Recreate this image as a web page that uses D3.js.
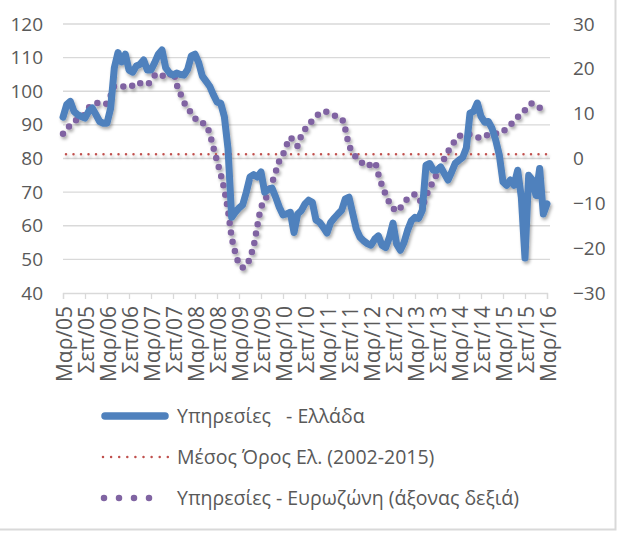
<!DOCTYPE html>
<html>
<head>
<meta charset="utf-8">
<script src="https://cdn.jsdelivr.net/npm/d3@7"></script>
<style>
  html, body { margin: 0; padding: 0; background: #fff; }
  svg text { font-family: "Open Sans", "Noto Sans", sans-serif; fill: #595959; }
</style>
</head>
<body>
<div id="chart"></div>
<script>
/* ============================================================
   Υπηρεσίες: Ελλάδα vs Ευρωζώνη - dual axis line chart
   ============================================================ */

const WIDTH = 626;
const HEIGHT = 534;
const PLOT = { left: 63, right: 547, top: 24, bottom: 293 };

// x axis tick labels, one every 6 months (Mar/05 .. Mar/16)
const TICK_LABELS = [
  "Μαρ/05", "Σεπ/05", "Μαρ/06", "Σεπ/06", "Μαρ/07", "Σεπ/07",
  "Μαρ/08", "Σεπ/08", "Μαρ/09", "Σεπ/09", "Μαρ/10", "Σεπ/10",
  "Μαρ/11", "Σεπ/11", "Μαρ/12", "Σεπ/12", "Μαρ/13", "Σεπ/13",
  "Μαρ/14", "Σεπ/14", "Μαρ/15", "Σεπ/15", "Μαρ/16",
];
const LEFT_TICKS = [40, 50, 60, 70, 80, 90, 100, 110, 120];
const RIGHT_TICKS = [-30, -20, -10, 0, 10, 20, 30];

// monthly values, Mar 2005 .. Mar 2016 (133 months)
const GREECE = [
  92.3, 96, 97, 94, 93, 92.5, 92, 94, 95, 93, 91, 90.5,
  90.5, 95, 107, 111.5, 108.7, 111, 106.3, 105.7, 107.5, 108, 109.3, 106.3,
  106.3, 108.5, 111, 112.3, 107, 105.5, 104.8, 105.4, 105, 104.8, 106.5, 110.5,
  111, 108.5, 104.5, 103, 101.5, 99, 96.8, 96.5, 92.5, 83, 62.5, 64,
  65.3, 66.2, 70, 74.5, 75.2, 74.5, 76, 70, 70.8, 71.2, 68.5, 65.5,
  63.2, 63.5, 64, 58, 63.5, 64.5, 66.5, 67.6, 67, 61.7, 61, 59.5,
  57.8, 61, 62.3, 63.5, 64.6, 68, 68.5, 63.7, 59, 56.6, 55.5, 54.7,
  54.2, 56, 57, 54.2, 53.5, 56.5, 60.8, 54.5, 52.7, 55, 58.7, 61.5,
  62.5, 62.2, 64.6, 78, 78.5, 76.5, 76.5, 77.5, 75.5, 73.6, 76, 78.6,
  79.5, 80.3, 83.1, 93.5, 94, 96.5, 92.5, 90.8, 91, 89, 85.5, 81,
  73, 72, 73.6, 72, 76.5, 68.5, 50.4, 75, 73.6, 69, 77, 63.5,
  66.5,
];

const EUROZONE = [
  5.5, 6.5, 7.5, 8.3, 8.7, 9, 10, 11.3, 12, 12.3, 12.4, 12,
  12.3, 14, 16.1, 16.1, 16.1, 16, 15.8, 16.3, 17, 16.8, 16.5, 16.5,
  17.5, 18.5, 19, 18.6, 18, 18.5, 19.4, 16.5, 14.5, 12.5, 11.5, 10,
  9, 8, 7.9, 7.5, 5.5, 2.5, -0.5, -3.5, -7, -11.6, -17.5, -21,
  -23.5, -24.3, -24, -22, -19.5, -15, -11, -9.5, -7.5, -5.4, -3, -0.5,
  0.9, 3, 4.7, 3.5, 2.8, 5.2, 6.5, 7.5, 8.5, 9.4, 10, 10.5,
  10.4, 10, 9.6, 9.2, 8.9, 6.5, 3, 1.5, 0.2, -0.5, -1.3, -1.8,
  -1.2, -0.8, -3.5, -6, -8, -9.8, -11, -11.8, -11, -9.8, -9, -8.5,
  -8, -8.5, -10.5, -8.5, -6.5, -5.2, -3.3, -1.8, 0, 1.5, 2.9, 4,
  5, 5.2, 5.3, 5.4, 5.2, 4.8, 4.5, 4.9, 5.3, 5.6, 5.6, 5.6,
  6, 6.8, 7.5, 8.3, 9.2, 10, 10.8, 11.8, 12.3, 11.8, 11.3, 10.9,
  10.8,
];

// long-run average for Greece (2002-2015), left axis
const GREECE_AVG = 81.3;

const LEGEND = [
  { label: "Υπηρεσίες   - Ελλάδα", type: "greece" },
  { label: "Μέσος Όρος Ελ. (2002-2015)", type: "avg" },
  { label: "Υπηρεσίες - Ευρωζώνη (άξονας δεξιά)", type: "euro" },
];

const BLUE = "#4f81bd";
const RED = "#c0504d";
const PURPLE = "#8064a2";
const GRID = "#d9d9d9";

/* ---------- scales ---------- */
const x = d3.scaleLinear().domain([0, GREECE.length - 1]).range([PLOT.left, PLOT.right]);
const yL = d3.scaleLinear().domain([40, 120]).range([PLOT.bottom, PLOT.top]);
const yR = d3.scaleLinear().domain([-30, 30]).range([PLOT.bottom, PLOT.top]);

const svg = d3
  .select("#chart")
  .append("svg")
  .attr("width", WIDTH)
  .attr("height", HEIGHT);

// soft shadow like the office chart effect
const defs = svg.append("defs");
defs
  .append("filter")
  .attr("id", "shadow")
  .attr("x", "-10%")
  .attr("y", "-10%")
  .attr("width", "120%")
  .attr("height", "130%")
  .append("feDropShadow")
  .attr("dx", 1.5)
  .attr("dy", 2.5)
  .attr("stdDeviation", 1.5)
  .attr("flood-color", "#000")
  .attr("flood-opacity", 0.32);

// outer frame (right + bottom edges visible)
svg
  .append("path")
  .attr("d", `M615.5,0 V529.5 H0`)
  .attr("fill", "none")
  .attr("stroke", GRID)
  .attr("stroke-width", 2);

/* ---------- grid + axes ---------- */
svg
  .append("g")
  .selectAll("line")
  .data(LEFT_TICKS.slice(1))
  .join("line")
  .attr("x1", PLOT.left)
  .attr("x2", PLOT.right + 3)
  .attr("y1", (d) => yL(d))
  .attr("y2", (d) => yL(d))
  .attr("stroke", GRID)
  .attr("stroke-width", 1.3);

const leftAxis = svg
  .append("g")
  .attr("transform", `translate(${PLOT.left},0)`)
  .call(d3.axisLeft(yL).tickValues(LEFT_TICKS).tickSize(0).tickPadding(20));
leftAxis.select(".domain").remove();

const rightAxis = svg
  .append("g")
  .attr("transform", `translate(${PLOT.right},0)`)
  .call(d3.axisRight(yR).tickValues(RIGHT_TICKS).tickSize(0).tickPadding(26));
rightAxis.select(".domain").remove();

svg.selectAll(".tick text").attr("font-size", 19).attr("fill", "#595959")
  .style("font-family", '"Open Sans", sans-serif');

// bottom axis: one tick every 6 months
const xTickIdx = TICK_LABELS.map((d, i) => i * 6);
const bottomAxis = svg
  .append("g")
  .attr("transform", `translate(0,${PLOT.bottom})`)
  .call(
    d3.axisBottom(x)
      .tickValues(xTickIdx)
      .tickSize(6)
      .tickFormat((d, i) => TICK_LABELS[i])
  );
bottomAxis.select(".domain").attr("stroke", GRID).attr("stroke-width", 1.3);
bottomAxis.selectAll(".tick line").attr("stroke", GRID).attr("stroke-width", 1.3);
bottomAxis
  .selectAll(".tick text")
  .attr("transform", "rotate(-90)")
  .attr("text-anchor", "end")
  .attr("x", -13)
  .attr("y", 0)
  .attr("dy", "0.4em")
  .attr("font-size", 21)
  .style("font-family", '"Open Sans", sans-serif')
  .attr("fill", "#595959");

/* ---------- series ---------- */
const plot = svg.append("g").attr("filter", "url(#shadow)");

// average reference line
plot
  .append("line")
  .attr("x1", x(0) + 3)
  .attr("x2", x(GREECE.length - 1))
  .attr("y1", yL(GREECE_AVG))
  .attr("y2", yL(GREECE_AVG))
  .attr("stroke", RED)
  .attr("stroke-width", 2.5)
  .attr("stroke-linecap", "round")
  .attr("stroke-dasharray", "0 7.5");

// eurozone, right axis, round dots
plot
  .append("path")
  .datum(EUROZONE)
  .attr("fill", "none")
  .attr("stroke", PURPLE)
  .attr("stroke-width", 6.5)
  .attr("stroke-linecap", "round")
  .attr("stroke-dasharray", "0 9.5")
  .attr("d", d3.line().x((d, i) => x(i)).y((d) => yR(d)).curve(d3.curveMonotoneX));

// greece, left axis, thick solid
plot
  .append("path")
  .datum(GREECE)
  .attr("fill", "none")
  .attr("stroke", BLUE)
  .attr("stroke-width", 7)
  .attr("stroke-linejoin", "round")
  .attr("stroke-linecap", "round")
  .attr("d", d3.line().x((d, i) => x(i)).y((d) => yL(d)));

/* ---------- legend ---------- */
const legend = svg
  .append("g")
  .selectAll("g")
  .data(LEGEND)
  .join("g")
  .attr("transform", (d, i) => `translate(0,${416 + i * 41})`);

legend.each(function (d) {
  const g = d3.select(this);
  if (d.type === "greece") {
    g.append("line")
      .attr("x1", 105).attr("x2", 165)
      .attr("stroke", BLUE).attr("stroke-width", 7.5).attr("stroke-linecap", "round");
  } else if (d.type === "avg") {
    g.append("line")
      .attr("x1", 103).attr("x2", 168)
      .attr("stroke", RED).attr("stroke-width", 2.5).attr("stroke-linecap", "round")
      .attr("stroke-dasharray", "0 8.1");
  } else {
    g.append("line")
      .attr("x1", 104).attr("x2", 164)
      .attr("stroke", PURPLE).attr("stroke-width", 6.5).attr("stroke-linecap", "round")
      .attr("stroke-dasharray", "0 15");
  }
  g.append("text")
    .attr("x", 177)
    .attr("dy", "0.35em")
    .attr("font-size", 19.5)
    .style("white-space", "pre")
    .text(d.label);
});
</script>
</body>
</html>
